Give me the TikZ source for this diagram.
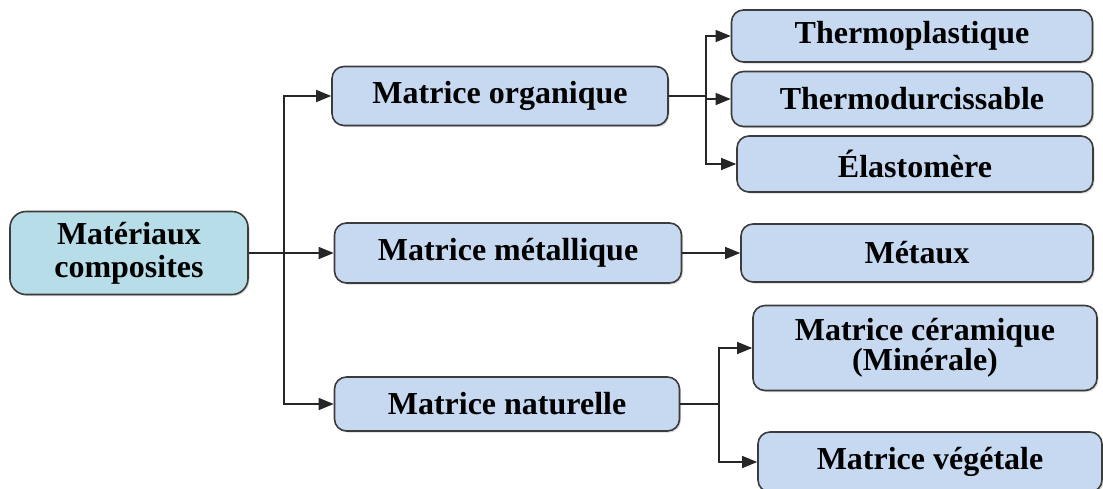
\documentclass[tikz,border=0pt]{standalone}
\usepackage{fontspec}
\setmainfont{Liberation Serif}
\usetikzlibrary{arrows.meta,shadows}
\definecolor{boxblue}{HTML}{C6D9F1}
\definecolor{rootcyan}{HTML}{B7DEE8}
\definecolor{edgegray}{HTML}{3C3C3C}
\tikzset{
  cat/.style={draw=edgegray,line width=1.6pt,rounded corners=12pt,fill=boxblue,
    font=\fontsize{32}{33}\selectfont\bfseries,align=center,inner sep=0pt,
    drop shadow={shadow xshift=1.5pt,shadow yshift=-1.5pt,opacity=.3}},
  link/.style={line width=1.3pt,draw=black!85},
  arr/.style={link,-{Triangle[length=15pt,width=12pt]}}
}
\begin{document}
\begin{tikzpicture}[x=1pt,y=-1pt]
\useasboundingbox (0,0) rectangle (1103,488);
% root
\node[cat,fill=rootcyan,rounded corners=16pt,minimum width=238pt,minimum height=83pt] (mat) at (129,253) {Matériaux\\composites};
% families of matrix
\node[cat,minimum width=336pt,minimum height=59pt] (org) at (500,96) {Matrice organique};
\node[cat,minimum width=347pt,minimum height=60pt] (met) at (508,253) {Matrice métallique};
\node[cat,minimum width=345pt,minimum height=54pt] (nat) at (507,404) {Matrice naturelle};
% leaves
\node[cat,minimum width=361pt,minimum height=52pt] (thp) at (912,36) {Thermoplastique};
\node[cat,minimum width=361pt,minimum height=55pt] (thd) at (912,99) {Thermodurcissable};
\node[cat,minimum width=356pt,minimum height=56pt] (ela) at (915,164) {Élastomère};
\node[cat,minimum width=352pt,minimum height=58pt] (mtx) at (917,253) {Métaux};
\node[cat,minimum width=344pt,minimum height=85pt,font=\fontsize{32}{30}\selectfont\bfseries] (cer) at (925,348) {Matrice céramique\\(Minérale)};
\node[cat,minimum width=344pt,minimum height=60pt] (veg) at (930,462) {Matrice végétale};
% junctions
\coordinate (j1) at (284,0);
\coordinate (j2) at (706,0);
\coordinate (j3) at (719,0);
\foreach \t in {org,met,nat}
\draw[arr] (mat.east) -- (j1 |- mat.east) |- (\t.west);
\foreach \t in {thp,thd,ela}
\draw[arr] (org.east) -- (j2 |- org.east) |- (\t.west);
\draw[arr] (met.east) -- (mtx.west);
\foreach \t in {cer,veg}
\draw[arr] (nat.east) -- (j3 |- nat.east) |- (\t.west);
\end{tikzpicture}
\end{document}
